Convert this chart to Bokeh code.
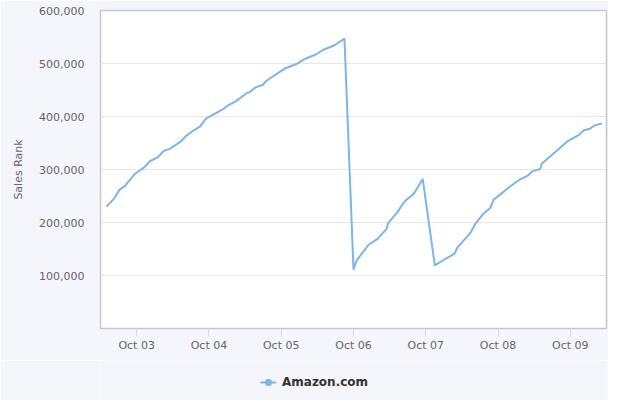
from datetime import datetime
from bokeh.plotting import figure
from bokeh.layouts import column
from bokeh.models import (ColumnDataSource, FixedTicker, NumeralTickFormatter,
                          DatetimeTickFormatter, Legend, LegendItem, Range1d)
from bokeh.embed import file_html
from bokeh.resources import INLINE

# ---- data ----
times = [
    "2023-10-02 14:00", "2023-10-02 16:30", "2023-10-02 18:20", "2023-10-02 20:00",
    "2023-10-02 23:15", "2023-10-03 02:30", "2023-10-03 04:30", "2023-10-03 07:00",
    "2023-10-03 09:00", "2023-10-03 11:00", "2023-10-03 14:30", "2023-10-03 16:30",
    "2023-10-03 19:00", "2023-10-03 21:00", "2023-10-03 23:00", "2023-10-04 01:00",
    "2023-10-04 05:00", "2023-10-04 06:00", "2023-10-04 09:00", "2023-10-04 12:30",
    "2023-10-04 13:30", "2023-10-04 15:30", "2023-10-04 18:00", "2023-10-04 19:00",
    "2023-10-05 01:00", "2023-10-05 05:00", "2023-10-05 08:00", "2023-10-05 11:30",
    "2023-10-05 14:00", "2023-10-05 17:30", "2023-10-05 21:00", "2023-10-06 00:00",
    "2023-10-06 01:00", "2023-10-06 02:20", "2023-10-06 05:00", "2023-10-06 08:00",
    "2023-10-06 11:00", "2023-10-06 11:30", "2023-10-06 14:30", "2023-10-06 17:00",
    "2023-10-06 20:00", "2023-10-06 23:00", "2023-10-07 03:00", "2023-10-07 07:00",
    "2023-10-07 09:30", "2023-10-07 10:30", "2023-10-07 13:30", "2023-10-07 15:00",
    "2023-10-07 16:30", "2023-10-07 19:00", "2023-10-07 21:30", "2023-10-07 22:30",
    "2023-10-08 01:00", "2023-10-08 04:00", "2023-10-08 07:30", "2023-10-08 10:00",
    "2023-10-08 11:30", "2023-10-08 14:00", "2023-10-08 14:30", "2023-10-08 23:00",
    "2023-10-09 03:00", "2023-10-09 04:30", "2023-10-09 06:30", "2023-10-09 08:00",
    "2023-10-09 10:30",
]
sales_rank = [
    230000, 245000, 262000, 268000, 291000, 304000, 316000, 323000,
    335000, 339000, 352000, 364000, 374000, 381000, 396000, 402000,
    415000, 420000, 429000, 444000, 446000, 455000, 460000, 467000,
    490000, 499000, 509000, 517000, 526000, 534000, 547000, 111000,
    128000, 138000, 158000, 169000, 188000, 199000, 219000, 240000,
    254000, 282000, 119000, 133000, 141000, 153000, 172000, 182000,
    198000, 216000, 228000, 243000, 254000, 268000, 282000, 289000,
    297000, 301000, 311000, 353000, 366000, 374000, 377000, 383000,
    387000,
]
tick_days = ["2023-10-03", "2023-10-04", "2023-10-05", "2023-10-06",
             "2023-10-07", "2023-10-08", "2023-10-09"]
y_ticks = [100000, 200000, 300000, 400000, 500000, 600000]
series_name = "Amazon.com"
y_title = "Sales Rank"

# ---- build ----
def ms(s, fmt):
    return datetime.strptime(s, fmt).timestamp() * 1000.0

xs = [datetime.strptime(t, "%Y-%m-%d %H:%M") for t in times]
src = ColumnDataSource(dict(x=xs, y=sales_rank))

FONT = "DejaVu Sans"
LINE = "#7cb5ec"
BG = "#f5f5fc"

p = figure(width=608, height=360, x_axis_type="datetime",
           output_backend="svg", toolbar_location=None,
           x_range=Range1d(datetime(2023, 10, 2, 12, 0), datetime(2023, 10, 9, 12, 0)),
           y_range=Range1d(0, 600000),
           min_border_left=100, min_border_right=2, min_border_top=10,
           min_border_bottom=32)

p.background_fill_color = "white"
p.border_fill_color = BG
p.outline_line_color = "#c8c8c8"
p.outline_line_width = 1.5

p.line("x", "y", source=src, line_color=LINE, line_width=2)

# x axis
xa = p.xaxis[0]
xa.ticker = FixedTicker(ticks=[ms(d, "%Y-%m-%d") for d in tick_days])
xa.formatter = DatetimeTickFormatter(days="%b %d", months="%b %d",
                                     hours="%b %d", minutes="%b %d")
xa.minor_tick_line_color = None
xa.major_tick_in = 0
xa.major_tick_out = 8
xa.major_tick_line_color = "#ccd6eb"
xa.axis_line_color = None
xa.major_label_standoff = 2
xa.major_label_text_font = FONT
xa.major_label_text_font_size = "11px"
xa.major_label_text_color = "#666666"

# y axis
ya = p.yaxis[0]
ya.ticker = FixedTicker(ticks=y_ticks)
ya.formatter = NumeralTickFormatter(format="0,0")
ya.minor_tick_line_color = None
ya.major_tick_line_color = None
ya.major_tick_in = 0
ya.major_tick_out = 0
ya.axis_line_color = None
ya.major_label_standoff = 16
ya.major_label_text_font = FONT
ya.major_label_text_font_size = "11px"
ya.major_label_text_color = "#666666"
ya.axis_label = y_title
ya.axis_label_text_font = FONT
ya.axis_label_text_font_size = "11px"
ya.axis_label_text_font_style = "normal"
ya.axis_label_text_color = "#666666"
ya.axis_label_standoff = 11

p.xgrid.grid_line_color = None
p.ygrid.grid_line_color = "#e6e6e6"
p.ygrid.grid_line_width = 1

# ---- legend strip (separate figure so the legend is not clipped) ----
lf = figure(width=608, height=40, output_backend="svg", toolbar_location=None,
            x_range=Range1d(0, 1), y_range=Range1d(0, 1),
            x_axis_location=None, y_axis_location=None,
            min_border_left=100, min_border_right=2, min_border_top=0,
            min_border_bottom=0)
lf.background_fill_color = BG
lf.border_fill_color = BG
lf.outline_line_color = None
lf.grid.grid_line_color = None
# proxies use the real series; their values lie far outside this strip's ranges
leg_line = lf.line(x=[ms(t, "%Y-%m-%d %H:%M") for t in times], y=sales_rank,
                   line_color=LINE, line_width=2)
leg_dot = lf.scatter(x=[ms(t, "%Y-%m-%d %H:%M") for t in times], y=sales_rank,
                     size=8, marker="circle", fill_color=LINE, line_color=LINE)

legend = Legend(items=[LegendItem(label=series_name, renderers=[leg_line, leg_dot])],
                location=(160, 10), orientation="horizontal",
                background_fill_alpha=0, border_line_color=None,
                padding=0, margin=0, spacing=0,
                glyph_width=16, glyph_height=16, label_height=16,
                label_standoff=6,
                label_text_font=FONT, label_text_font_size="12px",
                label_text_font_style="bold", label_text_color="#333333")
lf.add_layout(legend, "center")

layout = column(p, lf, spacing=0)
open("out.html", "w").write(file_html(layout, INLINE))
